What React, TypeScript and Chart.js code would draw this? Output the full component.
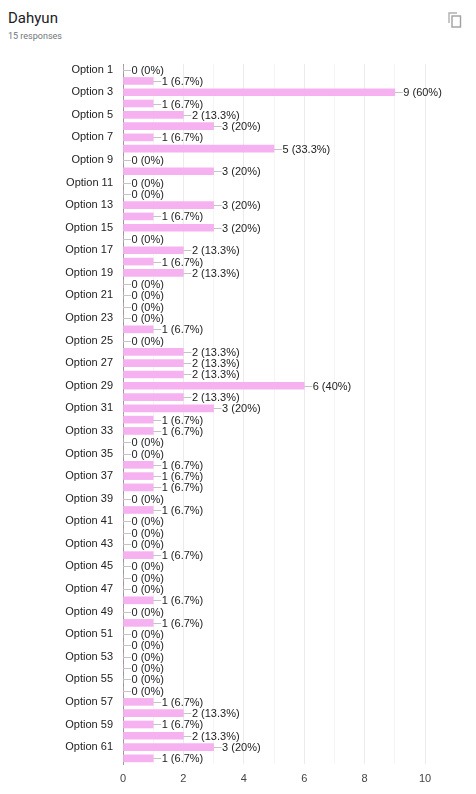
import React, { useEffect, useRef } from "react";
import { Chart, registerables } from "chart.js";

Chart.register(...registerables);

const title = "Dahyun";
const subtitle = "15 responses";
const totalResponses = 15;

const categories: string[] = Array.from({ length: 62 }, (_, i) => `Option ${i + 1}`);

const counts: number[] = [
  0, 1, 9, 1, 2, 3, 1, 5, 0, 3,
  0, 0, 3, 1, 3, 0, 2, 1, 2, 0,
  0, 0, 0, 1, 0, 2, 2, 2, 6, 2,
  3, 1, 1, 0, 0, 1, 1, 1, 0, 1,
  0, 0, 0, 1, 0, 0, 0, 1, 0, 1,
  0, 0, 0, 0, 0, 0, 1, 2, 1, 2,
  3, 1,
];

const xTicks: number[] = [0, 2, 4, 6, 8, 10];

const BAR_COLOR = "#f6b2f0";
const FONT = "Arial, 'Liberation Sans', sans-serif";

function pctText(v: number): string {
  const p = Math.round((v / totalResponses) * 1000) / 10;
  return `${v} (${p}%)`;
}

const valueLabels = {
  id: "valueLabels",
  afterDatasetsDraw(chart: any) {
    const ctx = chart.ctx;
    const meta = chart.getDatasetMeta(0);
    const xs = chart.scales.x;
    ctx.save();
    ctx.font = `11px ${FONT}`;
    ctx.textBaseline = "middle";
    ctx.textAlign = "left";
    meta.data.forEach((el: any, i: number) => {
      const v = counts[i];
      const x0 = v === 0 ? xs.getPixelForValue(0) : el.x;
      const y = Math.round(el.y) + 0.5;
      ctx.strokeStyle = "#c4c4c4";
      ctx.lineWidth = 1;
      ctx.beginPath();
      ctx.moveTo(x0, y);
      ctx.lineTo(x0 + 8, y);
      ctx.stroke();
      ctx.fillStyle = "#222222";
      ctx.fillText(pctText(v), x0 + 8.5, y + 0.5);
    });
    ctx.restore();
  },
};

export default function App() {
  const canvasRef = useRef<HTMLCanvasElement | null>(null);

  useEffect(() => {
    if (!canvasRef.current) return;
    const chart = new Chart(canvasRef.current, {
      type: "bar",
      data: {
        labels: categories,
        datasets: [
          {
            data: counts,
            backgroundColor: BAR_COLOR,
            borderWidth: 0,
            barThickness: 7,
          },
        ],
      },
      options: {
        indexAxis: "y",
        animation: false,
        responsive: false,
        maintainAspectRatio: false,
        layout: { padding: { top: 64, right: 51, left: 0, bottom: 0 } },
        plugins: {
          legend: { display: false },
          tooltip: { enabled: false },
        },
        scales: {
          x: {
            min: 0,
            max: 10,
            afterFit: (scale: any) => {
              scale.height = 30;
            },
            afterBuildTicks: (scale: any) => {
              const t: any[] = [];
              for (let v = 0; v <= 10; v++) t.push({ value: v });
              scale.ticks = t;
            },
            ticks: {
              autoSkip: false,
              padding: 8,
              color: "#444444",
              font: { size: 11, family: FONT },
              callback: (v: any) => (xTicks.includes(Number(v)) ? String(v) : ""),
            },
            grid: {
              drawTicks: false,
              color: (c: any) => (c.tick && c.tick.value % 2 === 0 ? "#ebebeb" : "#f5f5f5"),
            },
            border: { display: false },
          },
          y: {
            afterFit: (scale: any) => {
              scale.width = 123;
            },
            ticks: {
              autoSkip: false,
              padding: 10,
              color: "#222222",
              font: { size: 11, family: FONT },
              callback: (_v: any, i: number) => (i % 2 === 0 ? categories[i] : ""),
            },
            grid: { display: false, drawTicks: false },
            border: { display: true, color: "#999999", width: 1 },
          },
        },
      },
      plugins: [valueLabels],
    });
    return () => chart.destroy();
  }, []);

  return (
    <div
      style={{
        position: "absolute",
        left: 0,
        top: 0,
        width: 476,
        height: 794,
        background: "#ffffff",
        overflow: "hidden",
      }}
    >
      <div
        style={{
          position: "absolute",
          left: 8,
          top: 8,
          fontFamily: "Roboto, Arial, sans-serif",
          fontSize: 15,
          color: "#202124",
          lineHeight: "20px",
        }}
      >
        {title}
      </div>
      <div
        style={{
          position: "absolute",
          left: 8,
          top: 30,
          fontFamily: "Roboto, Arial, sans-serif",
          fontSize: 9,
          color: "#70757a",
          lineHeight: "12px",
        }}
      >
        {subtitle}
      </div>
      <svg
        width="14"
        height="16"
        viewBox="0 0 14 16"
        style={{ position: "absolute", left: 448, top: 12 }}
      >
        <path d="M1 11 V1 H9" fill="none" stroke="#b0b0b0" strokeWidth="1.4" />
        <rect x="4" y="4" width="8.5" height="11" fill="none" stroke="#a0a0a0" strokeWidth="1.4" />
      </svg>
      <canvas
        ref={canvasRef}
        width={476}
        height={794}
        style={{ position: "absolute", left: 0, top: 0, width: 476, height: 794 }}
      />
    </div>
  );
}
